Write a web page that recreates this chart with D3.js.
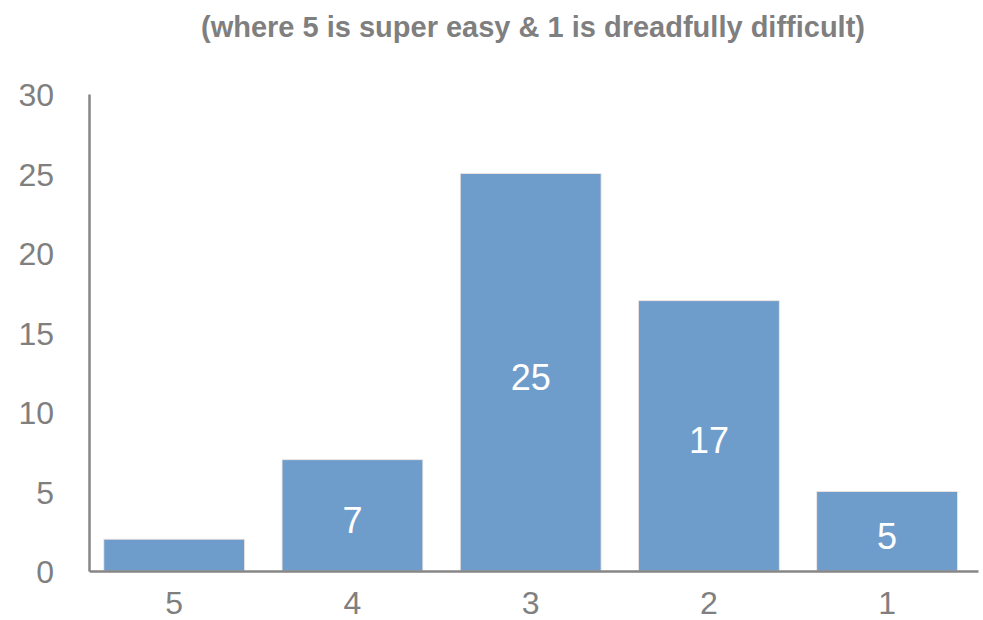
<!DOCTYPE html>
<html>
<head>
<meta charset="utf-8">
<script src="https://cdn.jsdelivr.net/npm/d3@7"></script>
<style>
  body { margin: 0; background: #fff; }
  svg { font-family: "Liberation Sans", Arial, sans-serif; }
</style>
</head>
<body>
<svg id="chart" width="983" height="620"></svg>
<script>
// chart data
const ratings = ["5", "4", "3", "2", "1"];
const counts = [2, 7, 25, 17, 5];
const yTicks = [0, 5, 10, 15, 20, 25, 30];
const title = "(where 5 is super easy & 1 is dreadfully difficult)";

const w = 983, h = 620;
const margin = { left: 89, right: 5, top: 94, bottom: 49 };
const axisColor = "#868686";
const textColor = "#7f7f7f";

const svg = d3.select("#chart");

const x = d3.scaleBand()
    .domain(ratings)
    .range([margin.left, w - margin.right])
    .paddingInner(0.21)
    .paddingOuter(0.099)
    .align(0.42);

const y = d3.scaleLinear()
    .domain([0, 30])
    .range([h - margin.bottom, margin.top]);

const data = ratings.map((r, i) => ({ r: r, v: counts[i] }));

// title
svg.append("text")
    .attr("x", 533)
    .attr("y", 37)
    .attr("text-anchor", "middle")
    .attr("fill", textColor)
    .style("font-weight", "bold")
    .style("font-size", "29px")
    .text(title);

// bars
svg.append("g")
    .selectAll("rect")
    .data(data)
    .enter()
    .append("rect")
    .attr("x", d => x(d.r))
    .attr("y", d => y(d.v))
    .attr("width", x.bandwidth())
    .attr("height", d => y(0) - y(d.v))
    .attr("fill", "#6f9dcb")
    .attr("stroke", "#f4e6e0")
    .attr("stroke-width", 0.8);

// value labels (too small bars get none)
svg.append("g")
    .selectAll("text")
    .data(data.filter(d => y(0) - y(d.v) > 40))
    .enter()
    .append("text")
    .attr("x", d => x(d.r) + x.bandwidth() / 2)
    .attr("y", d => (y(d.v) + y(0)) / 2)
    .attr("dy", "0.48em")
    .attr("text-anchor", "middle")
    .attr("fill", "#fff")
    .style("font-size", "36px")
    .text(d => d.v);

// y axis
const yAxis = svg.append("g")
    .attr("transform", `translate(${margin.left},0)`)
    .call(d3.axisLeft(y).tickValues(yTicks).tickSize(0).tickPadding(35));
yAxis.select(".domain").attr("stroke", axisColor).attr("stroke-width", 2.5);
yAxis.selectAll("text")
    .attr("fill", textColor)
    .style("font-size", "32px")
    .attr("dy", "0.36em")
    .attr("font-family", null);

// x axis
const xAxis = svg.append("g")
    .attr("transform", `translate(0,${y(0)})`)
    .call(d3.axisBottom(x).tickSize(0).tickPadding(20));
xAxis.select(".domain").attr("stroke", axisColor).attr("stroke-width", 2.5);
xAxis.selectAll("text")
    .attr("fill", textColor)
    .style("font-size", "32px")
    .attr("font-family", null);
</script>
</body>
</html>
